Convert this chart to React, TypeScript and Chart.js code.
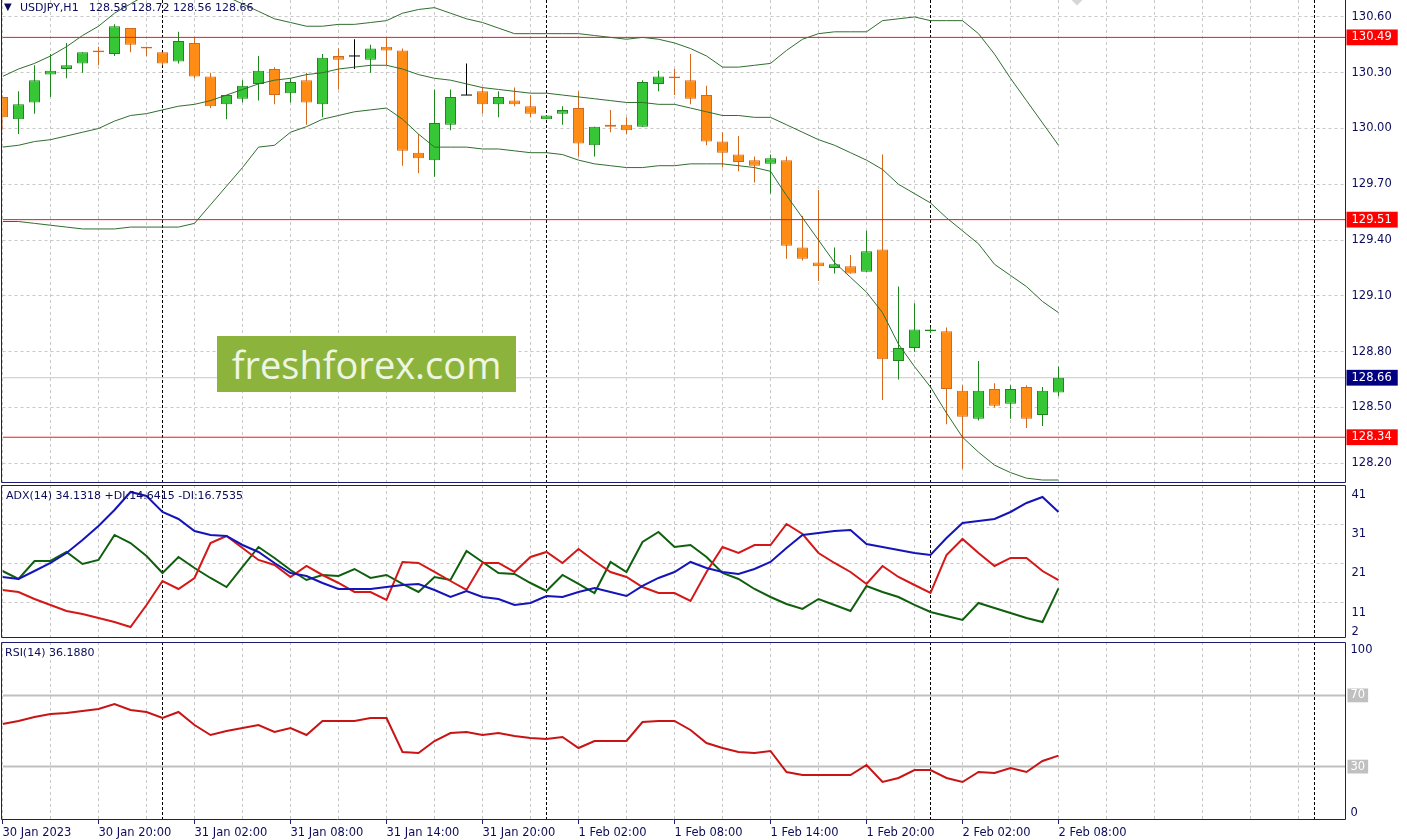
import React, { useEffect, useRef } from 'react';
import { Chart, registerables } from 'chart.js';

Chart.register(...registerables);

// ---------------- data ----------------
const xLabels = [
  '30 Jan 2023', '30 Jan 20:00', '31 Jan 02:00', '31 Jan 08:00', '31 Jan 14:00', '31 Jan 20:00',
  '1 Feb 02:00', '1 Feb 08:00', '1 Feb 14:00', '1 Feb 20:00', '2 Feb 02:00', '2 Feb 08:00',
];
const LABEL_EVERY = 6; // hourly bars between labels
const GRID_EVERY = 3;
const daySeparators = [10, 34, 58, 82];

const opens = [130.17, 130.05, 130.14, 130.29, 130.32, 130.35, 130.42, 130.40, 130.54, 130.44,
  130.41, 130.36, 130.46, 130.28, 130.13, 130.16, 130.24, 130.32, 130.19, 130.26,
  130.13, 130.39, 130.39, 130.37, 130.44, 130.42, 129.87, 129.83, 130.02, 130.18,
  130.20, 130.13, 130.15, 130.12, 130.05, 130.08, 130.11, 129.91, 130.02, 130.02,
  130.01, 130.24, 130.28, 130.26, 130.18, 129.93, 129.86, 129.83, 129.81, 129.83,
  129.36, 129.28, 129.25, 129.26, 129.23, 129.35, 128.75, 128.82, 128.91, 128.91,
  128.59, 128.44, 128.60, 128.52, 128.61, 128.46, 128.58];
const highs = [130.18, 130.20, 130.34, 130.40, 130.46, 130.41, 130.44, 130.56, 130.54, 130.44,
  130.41, 130.52, 130.49, 130.30, 130.18, 130.26, 130.39, 130.33, 130.27, 130.30,
  130.40, 130.43, 130.48, 130.45, 130.49, 130.43, 129.97, 130.21, 130.21, 130.35,
  130.22, 130.20, 130.22, 130.18, 130.07, 130.12, 130.20, 130.01, 130.10, 130.06,
  130.26, 130.31, 130.32, 130.40, 130.23, 129.98, 129.96, 129.85, 129.86, 129.85,
  129.53, 129.67, 129.36, 129.32, 129.45, 129.86, 129.15, 129.06, 128.93, 128.93,
  128.62, 128.75, 128.63, 128.62, 128.62, 128.61, 128.72];
const lows = [129.99, 129.97, 130.08, 130.17, 130.27, 130.30, 130.34, 130.39, 130.41, 130.39,
  130.34, 130.35, 130.27, 130.11, 130.05, 130.14, 130.15, 130.13, 130.14, 130.02,
  130.06, 130.21, 130.32, 130.30, 130.34, 129.80, 129.76, 129.74, 129.99, 130.18,
  130.08, 130.06, 130.12, 130.06, 130.05, 130.02, 129.85, 129.85, 129.98, 129.97,
  130.01, 130.20, 130.18, 130.13, 129.91, 129.79, 129.77, 129.71, 129.65, 129.30,
  129.29, 129.18, 129.22, 129.22, 129.23, 128.54, 128.65, 128.80, 128.90, 128.41,
  128.17, 128.43, 128.50, 128.44, 128.39, 128.40, 128.56];
const closes = [130.06, 130.13, 130.26, 130.31, 130.34, 130.41, 130.41, 130.55, 130.45, 130.43,
  130.35, 130.47, 130.28, 130.12, 130.18, 130.23, 130.31, 130.18, 130.25, 130.14,
  130.38, 130.37, 130.39, 130.43, 130.42, 129.88, 129.84, 130.03, 130.17, 130.18,
  130.13, 130.17, 130.13, 130.08, 130.07, 130.10, 129.92, 130.01, 130.01, 129.99,
  130.25, 130.28, 130.27, 130.16, 129.93, 129.87, 129.82, 129.80, 129.84, 129.37,
  129.30, 129.26, 129.27, 129.22, 129.34, 128.76, 128.82, 128.92, 128.92, 128.60,
  128.45, 128.59, 128.51, 128.60, 128.44, 128.59, 128.66];

const bbUpper = [130.28, 130.32, 130.35, 130.39, 130.44, 130.50, 130.55, 130.62, 130.67, 130.72,
  130.75, 130.76, 130.76, 130.75, 130.71, 130.67, 130.63, 130.59, 130.57, 130.55,
  130.55, 130.56, 130.56, 130.57, 130.58, 130.62, 130.64, 130.65, 130.62, 130.59,
  130.57, 130.54, 130.51, 130.51, 130.51, 130.51, 130.51, 130.50, 130.49, 130.48,
  130.49, 130.48, 130.46, 130.43, 130.39, 130.33, 130.33, 130.34, 130.35, 130.42,
  130.48, 130.51, 130.52, 130.52, 130.52, 130.58, 130.59, 130.60, 130.58, 130.58,
  130.58, 130.51, 130.40, 130.27, 130.15, 130.03, 129.91];
const bbMiddle = [129.90, 129.91, 129.93, 129.94, 129.96, 129.98, 130.00, 130.04, 130.07, 130.08,
  130.10, 130.12, 130.13, 130.15, 130.18, 130.21, 130.24, 130.26, 130.27, 130.29,
  130.30, 130.32, 130.33, 130.34, 130.34, 130.32, 130.29, 130.27, 130.26, 130.24,
  130.22, 130.21, 130.20, 130.19, 130.19, 130.18, 130.17, 130.16, 130.15, 130.14,
  130.14, 130.13, 130.13, 130.11, 130.09, 130.07, 130.07, 130.06, 130.06, 130.02,
  129.98, 129.94, 129.91, 129.87, 129.83, 129.78, 129.70, 129.65, 129.60, 129.52,
  129.45, 129.38, 129.27, 129.21, 129.15, 129.07, 129.01];
const bbLower = [129.50, 129.50, 129.49, 129.48, 129.47, 129.46, 129.46, 129.46, 129.47, 129.47,
  129.47, 129.47, 129.49, 129.59, 129.69, 129.79, 129.90, 129.91, 129.98, 130.01,
  130.05, 130.07, 130.09, 130.10, 130.11, 130.05, 129.97, 129.90, 129.90, 129.90,
  129.89, 129.89, 129.88, 129.87, 129.87, 129.86, 129.83, 129.81, 129.80, 129.79,
  129.79, 129.80, 129.80, 129.81, 129.81, 129.81, 129.80, 129.79, 129.77, 129.64,
  129.52, 129.40, 129.28, 129.20, 129.12, 129.01, 128.84, 128.72, 128.61, 128.47,
  128.34, 128.26, 128.19, 128.15, 128.12, 128.11, 128.11];

const adx = [17.55, 17.04, 19.08, 21.12, 23.67, 26.98, 30.55, 34.63, 39.22, 38.20,
  34.12, 32.34, 29.28, 28.26, 28.00, 25.71, 23.93, 21.12, 18.57, 17.81,
  16.02, 14.49, 14.49, 14.49, 15.00, 15.51, 15.77, 14.24, 12.45, 13.98,
  12.45, 11.94, 10.42, 10.93, 12.71, 12.45, 13.73, 14.75, 13.73, 12.71,
  15.26, 17.30, 18.83, 21.38, 19.85, 18.83, 18.32, 19.59, 21.38, 24.94,
  28.26, 28.77, 29.28, 29.53, 25.96, 25.20, 24.43, 23.67, 23.16, 27.49,
  31.32, 31.83, 32.34, 34.12, 36.42, 37.94, 34.13];
const plusDI = [19.08, 17.04, 21.63, 21.63, 23.93, 20.87, 21.89, 28.26, 26.22, 22.91,
  18.57, 22.65, 19.85, 17.30, 15.00, 20.10, 25.20, 22.40, 19.34, 16.79,
  18.06, 17.81, 19.59, 17.30, 18.06, 15.77, 13.73, 17.55, 16.79, 24.18,
  21.38, 18.57, 18.32, 16.02, 13.98, 18.06, 15.77, 13.47, 21.38, 18.83,
  26.47, 29.02, 25.20, 25.71, 22.65, 18.57, 17.04, 14.49, 12.45, 10.67,
  9.40, 11.94, 10.42, 8.89, 15.26, 13.73, 12.45, 10.42, 8.63, 7.61,
  6.59, 10.93, 9.65, 8.38, 7.10, 6.08, 14.64];
const minusDI = [14.24, 13.73, 11.94, 10.42, 8.89, 8.12, 7.10, 6.08, 4.81, 10.42,
  16.53, 14.49, 17.30, 26.22, 28.00, 24.94, 21.89, 20.61, 17.55, 20.36,
  18.06, 16.02, 13.73, 13.73, 11.69, 21.38, 21.12, 18.83, 16.53, 14.24,
  21.12, 21.12, 18.83, 22.65, 23.93, 21.12, 24.69, 21.63, 18.83, 17.55,
  15.00, 13.47, 13.47, 11.44, 18.83, 25.20, 23.67, 25.71, 25.71, 31.06,
  28.51, 23.67, 21.12, 18.83, 15.77, 20.36, 17.55, 15.51, 13.47, 23.16,
  27.24, 23.67, 20.36, 22.40, 22.40, 19.08, 16.75];
const rsi = [53.93, 55.62, 57.87, 59.55, 60.11, 61.24, 62.36, 65.17, 61.80, 60.67,
  57.30, 60.67, 53.37, 47.75, 50.00, 51.69, 53.37, 49.44, 51.69, 47.75,
  55.62, 55.62, 55.62, 57.30, 57.30, 38.20, 37.64, 44.38, 48.88, 49.44,
  47.75, 48.88, 47.19, 46.07, 45.51, 46.63, 40.45, 44.38, 44.38, 44.38,
  55.06, 55.62, 55.62, 50.56, 43.26, 40.45, 38.20, 37.64, 38.76, 26.97,
  25.28, 25.28, 25.28, 25.28, 30.90, 21.35, 23.60, 28.09, 28.09, 23.60,
  21.35, 26.97, 26.40, 29.21, 26.97, 33.15, 36.19];

const priceTicks = [128.2, 128.5, 128.8, 129.1, 129.4, 129.7, 130.0, 130.3, 130.6];
const levelPrices = [130.49, 129.51, 128.34];
const lastPrice = 128.66;
const adxTicks = [41, 31, 21, 11, 2];
const rsiTicks = [100, 70, 30, 0];
const rsiLevels = [70, 30];

const titleText = 'USDJPY,H1   128.58 128.72 128.56 128.66';
const adxText = 'ADX(14) 34.1318 +DI:14.6415 -DI:16.7535';
const rsiText = 'RSI(14) 36.1880';

// ---------------- style ----------------
const FONT = '"DejaVu Sans", Tahoma, sans-serif';
const FS = 11.5;
const NAVY = '#0c0c5c';
const FRAME = '#1c1c70';
const GRID = '#c8c8c8';
const NONE = 'rgba(0,0,0,0)';
const BULL_FILL = '#36c636';
const BULL_EDGE = '#1f861f';
const BEAR_FILL = '#ff8c14';
const BEAR_EDGE = '#d2691e';
const BB_COLOR = '#2f6e2f';
const LEVEL_RED = '#ff1010';

const PLOT_LEFT = 2.5;
const AXIS_W = 61.5;
const X_MAX = 83.9375;
const PRICE_MIN = 128.094;
const PRICE_MAX = 130.691;
const ADX_MIN = 2;
const ADX_MAX = 41;

Chart.defaults.font.family = FONT;

const idx = opens.map((_, i) => i);
const isDoji = (i: number) => opens[i] === closes[i];
const isBull = (i: number) => closes[i] > opens[i];

const labelAt = (v: number | undefined) => {
  if (v === undefined || v === null) return '';
  const k = v / LABEL_EVERY;
  return Number.isInteger(k) && k < xLabels.length ? xLabels[k] : '';
};

function xScale(showLabels: boolean): any {
  return {
    type: 'linear',
    min: 0,
    max: X_MAX,
    offset: false,
    afterBuildTicks: (s: any) => {
      const t: any[] = [];
      for (let v = 0; v <= X_MAX; v += GRID_EVERY) t.push({ value: v });
      s.ticks = t;
    },
    afterFit: (s: any) => {
      s.height = showLabels ? 20 : 0;
      s.paddingLeft = 0; s.paddingRight = 0; s.paddingTop = 0; s.paddingBottom = 0;
    },
    grid: {
      color: GRID,
      lineWidth: 1,
      offset: false,
      drawTicks: showLabels,
      tickLength: 4,
      tickWidth: 1,
      tickColor: (c: any) => (c.tick && labelAt(c.tick.value) ? FRAME : NONE),
    },
    border: { display: false, dash: [3, 3] },
    ticks: {
      display: showLabels,
      autoSkip: false,
      maxRotation: 0,
      minRotation: 0,
      align: 'start',
      padding: 2,
      color: NAVY,
      font: { family: FONT, size: FS },
      callback: (v: number) => labelAt(v),
    },
  };
}

function fixY(s: any) {
  s.width = AXIS_W;
  s.paddingLeft = 0; s.paddingRight = 0; s.paddingTop = 0; s.paddingBottom = 0;
}

const separators = (yMin: number, yMax: number) =>
  daySeparators.map((d) => ({
    type: 'line',
    data: [{ x: d, y: yMin }, { x: d, y: yMax }],
    borderColor: '#000000',
    borderWidth: 1,
    borderDash: [3, 2],
    pointRadius: 0,
    clip: 0,
    order: 20,
  }));

const hLine = (y: number, color: string, width: number, order: number) => ({
  type: 'line',
  data: [{ x: 0, y }, { x: X_MAX, y }],
  borderColor: color,
  borderWidth: width,
  pointRadius: 0,
  clip: 0,
  order,
});

const series = (vals: number[], color: string, width: number, order: number) => ({
  type: 'line',
  data: vals.map((v, i) => ({ x: i, y: v })),
  borderColor: color,
  borderWidth: width,
  pointRadius: 0,
  tension: 0,
  clip: 0,
  order,
});

const makeFrame = (drawTop: boolean) => ({
  id: 'panelFrame',
  afterDraw(chart: any) {
    const { ctx, chartArea: a } = chart;
    ctx.save();
    ctx.strokeStyle = FRAME;
    ctx.lineWidth = 1;
    ctx.beginPath();
    const l = 1.5;
    const r = a.right;
    const t = a.top + 0.5;
    const b = a.bottom - 0.5;
    ctx.moveTo(l, drawTop ? t : 0);
    ctx.lineTo(l, b);
    ctx.lineTo(r, b);
    ctx.lineTo(r, drawTop ? t : 0);
    if (drawTop) ctx.lineTo(l, t);
    ctx.stroke();
    ctx.restore();
  },
});

const baseOptions = (scales: any) => ({
  responsive: false,
  animation: false,
  devicePixelRatio: 1,
  events: [],
  layout: { padding: { left: PLOT_LEFT, right: 0, top: 0, bottom: 0 }, autoPadding: false },
  plugins: { legend: { display: false }, tooltip: { enabled: false }, title: { display: false } },
  scales,
});

function mainConfig(): any {
  const bodyIdx = idx.filter((i) => !isDoji(i));
  const dojiIdx = idx.filter((i) => isDoji(i));
  const special = (v: number) => levelPrices.includes(v) || v === lastPrice;
  return {
    type: 'bar',
    data: {
      datasets: [
        ...levelPrices.map((p) => hLine(p, LEVEL_RED, 1, 0)),
        series(bbUpper, BB_COLOR, 1, 1),
        series(bbMiddle, BB_COLOR, 1, 1),
        series(bbLower, BB_COLOR, 1, 1),
        {
          type: 'line',
          data: dojiIdx.map((i) => ({ x: i, y: opens[i] })),
          showLine: false,
          pointStyle: 'line',
          pointRadius: 5.5,
          pointBorderColor: '#000000',
          pointBorderWidth: 1,
          borderColor: '#000000',
          clip: 0,
          order: 2,
        },
        {
          type: 'bar',
          data: bodyIdx.map((i) => ({ x: i, y: [Math.min(opens[i], closes[i]), Math.max(opens[i], closes[i])] })),
          backgroundColor: bodyIdx.map((i) => (isBull(i) ? BULL_FILL : BEAR_FILL)),
          borderColor: bodyIdx.map((i) => (isBull(i) ? BULL_EDGE : BEAR_EDGE)),
          borderWidth: 1,
          borderSkipped: false,
          barThickness: 11,
          grouped: false,
          inflateAmount: 0,
          clip: 0,
          order: 3,
        },
        {
          type: 'bar',
          data: idx.map((i) => ({ x: i, y: [lows[i], highs[i]] })),
          backgroundColor: idx.map((i) => (isDoji(i) ? '#000000' : isBull(i) ? BULL_EDGE : BEAR_EDGE)),
          borderWidth: 0,
          barThickness: 1,
          grouped: false,
          inflateAmount: 0,
          clip: 0,
          order: 4,
        },
        hLine(lastPrice, '#c8c8c8', 1, 5),
        ...separators(PRICE_MIN, PRICE_MAX),
      ],
    },
    options: baseOptions({
      x: xScale(false),
      y: {
        type: 'linear',
        position: 'right',
        min: PRICE_MIN,
        max: PRICE_MAX,
        afterBuildTicks: (s: any) => {
          s.ticks = [...priceTicks, ...levelPrices, lastPrice].sort((a, b) => a - b).map((v) => ({ value: v }));
        },
        afterFit: fixY,
        grid: {
          color: (c: any) => (c.tick && special(c.tick.value) ? NONE : GRID),
          drawTicks: false,
          lineWidth: 1,
        },
        border: { display: false, dash: [3, 3] },
        ticks: {
          autoSkip: false,
          padding: 6,
          font: { family: FONT, size: FS },
          color: (c: any) => (c.tick && special(c.tick.value) ? '#ffffff' : NAVY),
          showLabelBackdrop: (c: any) => !!(c.tick && special(c.tick.value)),
          backdropColor: (c: any) => (c.tick && c.tick.value === lastPrice ? '#000080' : '#ff0000'),
          backdropPadding: { left: 5, right: 6, top: 1, bottom: 1 },
          callback: (v: number) => Number(v).toFixed(2),
        },
      },
    }),
    plugins: [makeFrame(false)],
  };
}

function adxConfig(): any {
  return {
    type: 'line',
    data: {
      datasets: [
        series(adx, '#1414b8', 2, 1),
        series(minusDI, '#d41818', 2, 2),
        series(plusDI, '#0f5f0f', 2, 3),
        ...separators(ADX_MIN, ADX_MAX),
      ],
    },
    options: baseOptions({
      x: xScale(false),
      y: {
        type: 'linear',
        position: 'right',
        min: ADX_MIN,
        max: ADX_MAX,
        afterBuildTicks: (s: any) => {
          s.ticks = [...adxTicks].sort((a, b) => a - b).map((v) => ({ value: v }));
        },
        afterFit: fixY,
        grid: {
          color: (c: any) => (c.tick && (c.tick.value === ADX_MIN || c.tick.value === ADX_MAX) ? NONE : GRID),
          drawTicks: false,
          lineWidth: 1,
        },
        border: { display: false, dash: [3, 3] },
        ticks: {
          autoSkip: false,
          padding: 6,
          color: NAVY,
          font: (c: any) => ({
            family: FONT,
            size: FS,
            lineHeight: c.tick && c.tick.value === ADX_MIN ? '12px' : '20px',
          }),
          callback: (v: number) => (v === ADX_MIN ? [String(v), ''] : ['', String(v)]),
        },
      },
    }),
    plugins: [makeFrame(true)],
  };
}

function rsiConfig(): any {
  return {
    type: 'line',
    data: {
      datasets: [
        series(rsi, '#c81414', 2, 1),
        ...rsiLevels.map((v) => hLine(v, '#c0c0c0', 2, 3)),
        ...separators(0, 100),
      ],
    },
    options: baseOptions({
      x: xScale(true),
      y: {
        type: 'linear',
        position: 'right',
        min: 0,
        max: 100,
        afterBuildTicks: (s: any) => {
          s.ticks = [...rsiTicks].sort((a, b) => a - b).map((v) => ({ value: v }));
        },
        afterFit: fixY,
        grid: { display: false, drawTicks: false },
        border: { display: false },
        ticks: {
          autoSkip: false,
          padding: 5,
          color: (c: any) => (c.tick && rsiLevels.includes(c.tick.value) ? '#ffffff' : NAVY),
          showLabelBackdrop: (c: any) => !!(c.tick && rsiLevels.includes(c.tick.value)),
          backdropColor: '#c0c0c0',
          backdropPadding: { left: 3, right: 3, top: 0, bottom: 0 },
          font: (c: any) => ({
            family: FONT,
            size: FS,
            lineHeight: c.tick && c.tick.value === 100 ? '16px' : c.tick && c.tick.value === 0 ? '14px' : 1.2,
          }),
          callback: (v: number) => (v === 100 ? ['', '100'] : v === 0 ? ['0', ''] : String(v)),
        },
      },
    }),
    plugins: [makeFrame(true)],
  };
}

export default function App() {
  const mainRef = useRef<HTMLCanvasElement>(null);
  const adxRef = useRef<HTMLCanvasElement>(null);
  const rsiRef = useRef<HTMLCanvasElement>(null);

  useEffect(() => {
    const charts = [
      new Chart(mainRef.current as HTMLCanvasElement, mainConfig()),
      new Chart(adxRef.current as HTMLCanvasElement, adxConfig()),
      new Chart(rsiRef.current as HTMLCanvasElement, rsiConfig()),
    ];
    return () => charts.forEach((c) => c.destroy());
  }, []);

  const abs = (left: number, top: number): React.CSSProperties => ({ position: 'absolute', left, top });

  return (
    <div style={{ position: 'absolute', left: 0, top: 0, width: 1407, height: 840, background: '#ffffff', overflow: 'hidden', fontFamily: FONT }}>
      <canvas ref={mainRef} width={1407} height={483} style={abs(0, 0)} />
      <canvas ref={adxRef} width={1407} height={153} style={abs(0, 485)} />
      <canvas ref={rsiRef} width={1407} height={198} style={abs(0, 642)} />

      <div style={{ ...abs(4, 0), fontSize: 11, lineHeight: '15px', color: NAVY, whiteSpace: 'pre' }}>
        <span style={{ fontSize: 10, display: 'inline-block', width: 16, verticalAlign: 'top', lineHeight: '14px' }}>▼</span>
        {titleText}
      </div>
      <div style={{ ...abs(6, 488), fontSize: 11, lineHeight: '15px', color: NAVY, whiteSpace: 'pre' }}>{adxText}</div>
      <div style={{ ...abs(5, 645), fontSize: 11, lineHeight: '15px', color: NAVY, whiteSpace: 'pre' }}>{rsiText}</div>

      <div style={{ ...abs(1071, -9), width: 12, height: 12, background: '#d6d6d6', transform: 'rotate(45deg)' }} />

      <div
        style={{
          ...abs(217, 336),
          width: 299,
          height: 56,
          background: '#8cb43c',
          color: '#eef6e2',
          fontFamily: '"Open Sans", "Noto Sans", sans-serif',
          fontSize: 38,
          lineHeight: '56px',
          textAlign: 'center',
        }}
      >
        freshforex.com
      </div>
    </div>
  );
}
